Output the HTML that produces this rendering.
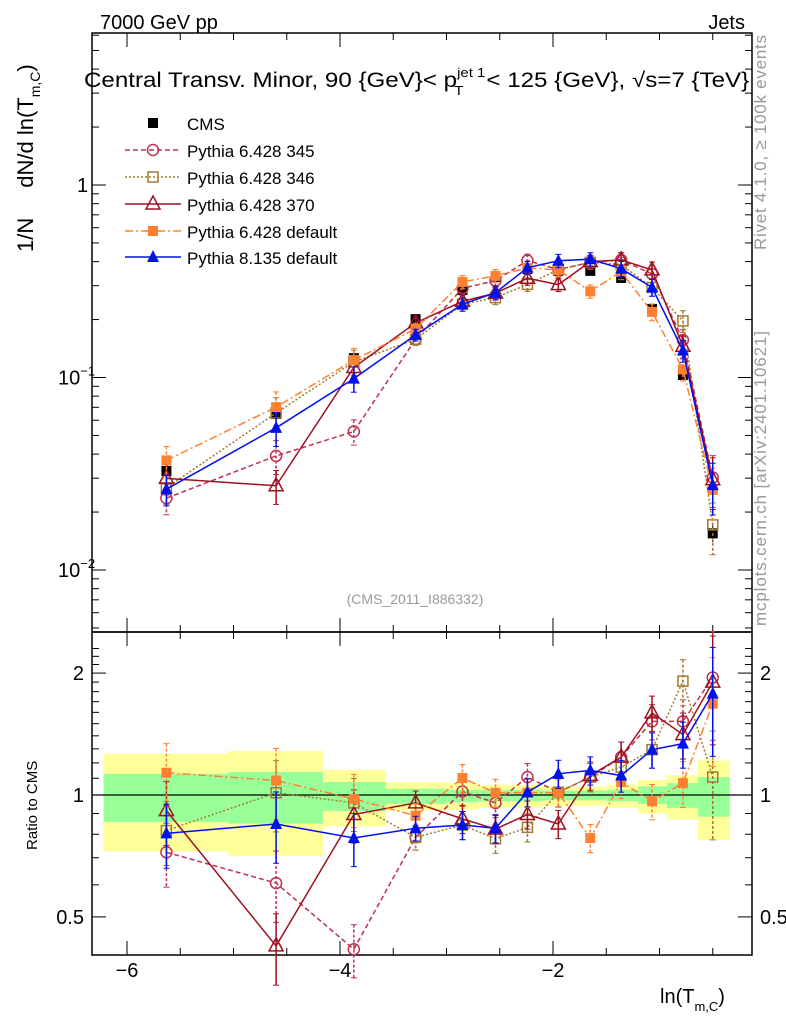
<!DOCTYPE html>
<html><head><meta charset="utf-8"><style>
body{margin:0;background:#fff;}
svg{display:block;font-family:"Liberation Sans",sans-serif;}
</style></head><body>
<svg id="chart" width="786" height="1024" viewBox="0 0 786 1024">
<text x="100" y="29" font-size="20">7000 GeV pp</text>
<text x="745" y="29" font-size="20" text-anchor="end">Jets</text>
<g transform="translate(84,0) scale(1.15,1)">
<text x="0" y="87" font-size="21">Central Transv. Minor, 90 {GeV}&lt; p<tspan font-size="13" dy="-10">jet 1</tspan><tspan font-size="13" dx="-27" dy="18">T</tspan><tspan dy="-8" dx="20">&lt; 125 {GeV}, √s=7 {TeV}</tspan></text>
</g>
<text transform="translate(33,252) rotate(-90)" font-size="22">1/N<tspan dx="30">dN/d ln(T</tspan><tspan font-size="14" dy="7">m,C</tspan><tspan dy="-7">)</tspan></text>
<text transform="translate(766,250) rotate(-90)" font-size="17" fill="#999" textLength="215">Rivet 4.1.0, ≥ 100k events</text>
<text transform="translate(766,626) rotate(-90)" font-size="17" fill="#999" textLength="295">mcplots.cern.ch [arXiv:2401.10621]</text>
<text x="415" y="604" font-size="14" fill="#999" text-anchor="middle">(CMS_2011_I886332)</text>
<text transform="translate(37,850) rotate(-90)" font-size="15">Ratio to CMS</text>
<text x="660" y="1003" font-size="20">ln(T<tspan font-size="13" dy="8">m,C</tspan><tspan dy="-8">)</tspan></text>
<g id="bands"></g><g id="axes"></g><g id="marks"></g><g id="legend"></g>
</svg>
<script>
const xVals=[-5.63,-4.6,-3.87,-3.29,-2.85,-2.54,-2.24,-1.95,-1.65,-1.36,-1.07,-0.78,-0.5];
const cmsVals=[0.0327,0.0646,0.126,0.201,0.285,0.333,0.366,0.358,0.358,0.329,0.227,0.103,0.0155];
const bandEdges=[-6.22,-5.05,-4.16,-3.57,-3.0,-2.7,-2.4,-2.1,-1.8,-1.5,-1.2,-0.93,-0.64,-0.34];
const yellowUp=[1.265,1.284,1.154,1.077,1.07,1.06,1.06,1.05,1.05,1.06,1.09,1.12,1.217];
const yellowDn=[0.726,0.708,0.837,0.915,0.92,0.93,0.93,0.94,0.94,0.93,0.9,0.87,0.774];
const greenUp=[1.128,1.14,1.077,1.036,1.03,1.03,1.03,1.025,1.025,1.03,1.05,1.07,1.107];
const greenDn=[0.858,0.85,0.913,0.951,0.96,0.965,0.965,0.97,0.97,0.965,0.95,0.93,0.884];
const r345=[0.722,0.606,0.416,0.786,1.02,0.956,1.107,1.016,1.107,1.24,1.52,1.52,1.95];
const r346=[0.817,1.013,0.956,0.786,0.843,0.78,0.832,1.016,1.107,1.172,1.294,1.91,1.107];
const r370=[0.915,0.424,0.895,0.956,0.873,0.824,0.895,0.848,1.117,1.24,1.595,1.41,1.9];
const rDef6=[1.135,1.086,0.978,0.889,1.101,1.013,1.013,1.013,0.783,1.076,0.965,1.07,1.68];
const rPy8=[0.804,0.848,0.783,0.828,0.843,0.828,1.016,1.128,1.15,1.117,1.294,1.339,1.78];
const relErr=[0.18,0.2,0.15,0.07,0.08,0.08,0.08,0.08,0.08,0.09,0.1,0.13,0.3];
const cmsRelErr=[0.1,0.1,0.05,0.03,0.03,0.03,0.03,0.03,0.03,0.03,0.04,0.06,0.1];

const NS="http://www.w3.org/2000/svg";
const L=92,R=752,T=33,MB=632,RB=955;
const X=v=>766+106.5*v;
const Y=v=>185-192.5*Math.log10(v);
const YR=v=>795-405*Math.log10(v);
function mk(p,tag,at){const e=document.createElementNS(NS,tag);for(const k in at)e.setAttribute(k,at[k]);document.getElementById(p).appendChild(e);return e;}

for(let i=0;i<yellowUp.length;i++){
  const x1=Math.max(X(bandEdges[i]),L+1),x2=X(bandEdges[i+1]);
  const y=mk('bands','rect',{x:x1,y:YR(yellowUp[i]),width:x2-x1,height:YR(yellowDn[i])-YR(yellowUp[i]),fill:'#ffff99'});
  
  
  const g=mk('bands','rect',{x:x1,y:YR(greenUp[i]),width:x2-x1,height:YR(greenDn[i])-YR(greenUp[i]),fill:'#99ff99'});
  
  
}
const ax='axes';
[[T,MB],[MB,RB]].forEach(([a,b],k)=>{
  const f=mk(ax,'rect',{x:L,y:a,width:R-L,height:b-a,fill:'none',stroke:'#000','stroke-width':1.5});
  
  
  for(let v=-6.5;v<=-0.1;v+=0.5){const x=X(v);if(x<L)continue;const big=Math.abs(v%2)<0.01;const len=big?14:7;
    mk(ax,'line',{x1:x,x2:x,y1:b,y2:b-len,stroke:'#000'});mk(ax,'line',{x1:x,x2:x,y1:a,y2:a+len,stroke:'#000'});}
});
const ref=mk(ax,'line',{x1:L,x2:R,y1:YR(1),y2:YR(1),stroke:'#000','stroke-width':1.3});


[-6,-4,-2].forEach(v=>{const t=mk(ax,'text',{x:X(v),y:977,'font-size':20,'text-anchor':'middle'});t.textContent='−'+(-v);
  
  });
for(let d=-3;d<=0;d++)for(let m=1;m<10;m++){const v=m*Math.pow(10,d),y=Y(v);if(y<T||y>MB)continue;const len=m==1?14:7;
  mk(ax,'line',{x1:L,x2:L+len,y1:y,y2:y,stroke:'#000'});mk(ax,'line',{x1:R,x2:R-len,y1:y,y2:y,stroke:'#000'});}
const yl=[[1,'1',''],[0.1,'10','−1'],[0.01,'10','−2']];
yl.forEach(([v,b,e])=>{const t=mk(ax,'text',{x:e?58:77,y:Y(v)+7,'font-size':20});t.textContent=b;
  if(e){const s=document.createElementNS(NS,'tspan');s.setAttribute('font-size',13);s.setAttribute('dy',-9);s.textContent=e;t.appendChild(s);}
  
  });
for(let v=0.4;v<=2.4;v+=0.1){const y=YR(v);if(y<MB||y>RB)continue;const big=[0.5,1,2].some(q=>Math.abs(q-v)<0.01);const len=big?14:7;
  mk(ax,'line',{x1:L,x2:L+len,y1:y,y2:y,stroke:'#000'});mk(ax,'line',{x1:R,x2:R-len,y1:y,y2:y,stroke:'#000'});}
[[2,'2'],[1,'1'],[0.5,'0.5']].forEach(([v,s])=>{
  const a=mk(ax,'text',{x:84,y:YR(v)+7,'font-size':20,'text-anchor':'end'});a.textContent=s;
  
  
  const b=mk(ax,'text',{x:760,y:YR(v)+7,'font-size':20});b.textContent=s;
  
  });

function marker(g,type,x,y,c){
  if(type=='fsq')mk(g,'rect',{x:x-5,y:y-5,width:10,height:10,fill:c});
  else if(type=='osq')mk(g,'rect',{x:x-5,y:y-5,width:10,height:10,fill:'none',stroke:c,'stroke-width':1.5});
  else if(type=='oc')mk(g,'circle',{cx:x,cy:y,r:5.5,fill:'none',stroke:c,'stroke-width':1.5});
  else if(type=='ot')mk(g,'path',{d:`M${x},${y-8}L${x+7},${y+5}L${x-7},${y+5}Z`,fill:'none',stroke:c,'stroke-width':1.5});
  else if(type=='ft')mk(g,'path',{d:`M${x},${y-7}L${x+6},${y+5}L${x-6},${y+5}Z`,fill:c});
}
const series=[
  {name:'Pythia 6.428 345',id:'pythia-6428-345',r:r345,c:'#c03050',m:'oc',dash:'5,3'},
  {name:'Pythia 6.428 346',id:'pythia-6428-346',r:r346,c:'#a07a30',m:'osq',dash:'2,2'},
  {name:'Pythia 6.428 370',id:'pythia-6428-370',r:r370,c:'#a01020',m:'ot',dash:''},
  {name:'Pythia 6.428 default',id:'pythia-6428-default',r:rDef6,c:'#ff8030',m:'fsq',dash:'8,3,2,3'},
  {name:'Pythia 8.135 default',id:'pythia-8135-default',r:rPy8,c:'#0010f0',m:'ft',dash:''},
];
cmsVals.forEach((v,i)=>{
  const g=mk('marks','g',{});
  
  
  g.id='cms'+i;
  mk(g.id,'line',{x1:X(xVals[i]),x2:X(xVals[i]),y1:Y(v*(1+cmsRelErr[i])),y2:Y(v*(1-cmsRelErr[i])),stroke:'#000'});
  marker(g.id,'fsq',X(xVals[i]),Y(v),'#000');
});
series.forEach(s=>{
  const vals=s.r.map((r,i)=>r*cmsVals[i]);
  const g=mk('marks','g',{});g.id=s.id;
  
  
  [[vals,Y],[s.r,YR]].forEach(([arr,F])=>{
    const pts=arr.map((v,i)=>X(xVals[i])+','+F(v)).join(' ');
    const pl=mk(s.id,'polyline',{points:pts,fill:'none',stroke:s.c,'stroke-width':1.5,'stroke-dasharray':s.dash});
    
    
    arr.forEach((v,i)=>{const x=X(xVals[i]);
      const y1=F(v*(1+relErr[i])),y2=F(v*(1-relErr[i]));
      mk(s.id,'line',{x1:x,x2:x,y1:y1,y2:y2,stroke:s.c,'stroke-width':1.5,'stroke-dasharray':s.dash?'3,2':''});
      mk(s.id,'line',{x1:x-3,x2:x+3,y1:y1,y2:y1,stroke:s.c});mk(s.id,'line',{x1:x-3,x2:x+3,y1:y2,y2:y2,stroke:s.c});
      marker(s.id,s.m,x,F(v),s.c);});
  });
});
const ly=[124,151,178,205,232,258];
const lc=mk('legend','g',{});lc.id='leg0';


marker('leg0','fsq',153,ly[0]-1,'#000');
let t=mk('leg0','text',{x:187,y:ly[0]+6,'font-size':17});t.textContent='CMS';
series.forEach((s,k)=>{
  const g=mk('legend','g',{});g.id='leg'+(k+1);
  
  
  const y=ly[k+1]-1;
  mk(g.id,'line',{x1:125,x2:181,y1:y,y2:y,stroke:s.c,'stroke-width':1.5,'stroke-dasharray':s.dash});
  marker(g.id,s.m,153,y,s.c);
  const tx=mk(g.id,'text',{x:187,y:y+7,'font-size':17});tx.textContent=s.name;
});
</script>
</body></html>
